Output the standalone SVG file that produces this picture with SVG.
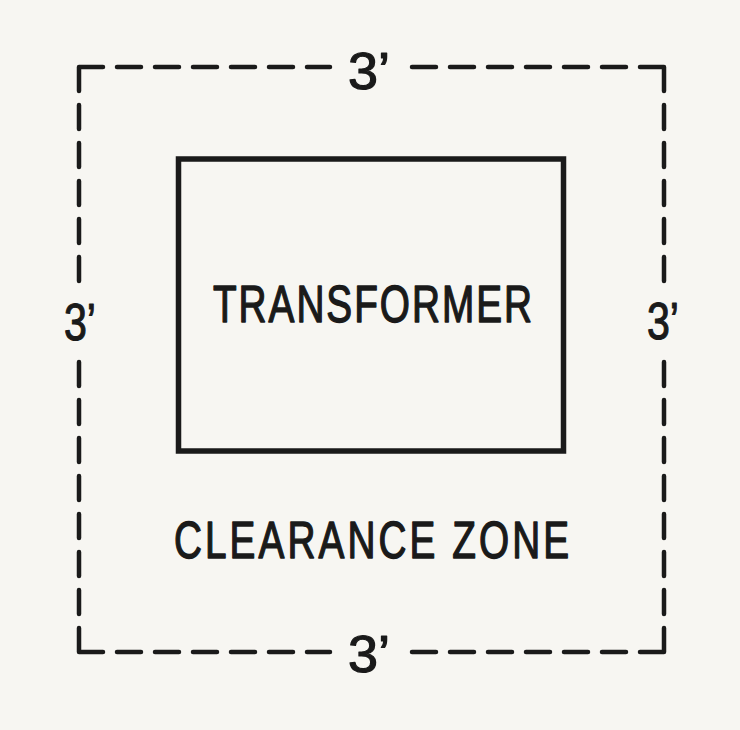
<svg xmlns="http://www.w3.org/2000/svg" width="740" height="730" viewBox="0 0 740 730">
<style>
.dash{fill:none;stroke:#1a1a1a;stroke-width:4.5;stroke-linecap:round;stroke-dasharray:24 14}
.box{fill:none;stroke:#1a1a1a;stroke-width:5.5}
text{font-family:"Liberation Sans","DejaVu Sans",sans-serif;fill:#1a1a1a;stroke:#1a1a1a;stroke-width:1.2;stroke-linejoin:round;text-anchor:middle}
.dim{font-size:52px}
.lbl{font-size:51px;stroke-width:1.4}
</style>
<rect width="740" height="730" fill="#f7f6f2"/>
<g id="connectors">
<path class="dash" d="M79 67H330M79 67V290M664 67H402M664 67V290M79 652H330M79 652V352M664 652H402M664 652V352"/>
</g>
<g id="transformer">
<rect class="box" x="178.5" y="159" width="385" height="292"/>
<text class="lbl" transform="translate(372.5 322) scale(0.76 1)" textLength="420" lengthAdjust="spacing">TRANSFORMER</text>
</g>
<g id="clearance-zone">
<text class="lbl" transform="translate(371.5 558) scale(0.76 1)" textLength="520" lengthAdjust="spacing">CLEARANCE ZONE</text>
</g>
<g id="dim-top"><text class="dim" x="369" y="89" textLength="42" lengthAdjust="spacingAndGlyphs">3’</text></g>
<g id="dim-bottom"><text class="dim" x="369" y="672" textLength="42" lengthAdjust="spacingAndGlyphs">3’</text></g>
<g id="dim-left"><text class="dim" x="80" y="340" textLength="32" lengthAdjust="spacingAndGlyphs">3’</text></g>
<g id="dim-right"><text class="dim" x="663" y="339" textLength="32" lengthAdjust="spacingAndGlyphs">3’</text></g>
</svg>
